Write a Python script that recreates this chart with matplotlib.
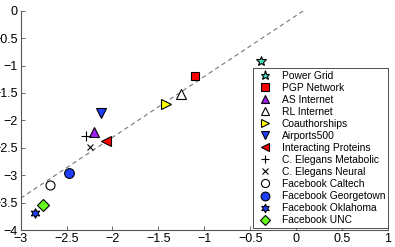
# -*- coding: utf-8 -*-
import matplotlib
matplotlib.use("Agg")
import matplotlib.pyplot as plt
from matplotlib.ticker import FuncFormatter

# Datos
redes = ["Power Grid", "PGP Network", "AS Internet", "RL Internet", "Coauthorships",
         "Airports500", "Interacting Proteins", "C. Elegans Metabolic", "C. Elegans Neural",
         "Facebook Caltech", "Facebook Georgetown", "Facebook Oklahoma", "Facebook UNC"]
x_vals = [-0.38, -1.10, -2.20, -1.25, -1.42, -2.13, -2.07, -2.29, -2.25, -2.68, -2.475, -2.84, -2.76]
y_vals = [-0.92, -1.20, -2.22, -1.52, -1.70, -1.86, -2.37, -2.29, -2.48, -3.18, -2.96, -3.69, -3.55]

# Recta de referencia (pendiente, ordenada)
pendiente = 1.11
ordenada = -0.09

# Estilos de marcador
marcadores = ["*", "s", "^", "^", ">", "v", "<", "+", "x", "o", "o", (6, 1, 0), "D"]
rellenos = ["#40e0c0", "#ff0000", "#a020f0", "white", "#ffff00", "#1f3fff", "#ff0000",
            "black", "black", "white", "#1f3fff", "#1f3fff", "#66ff1a"]
tamanos = [7.5, 6, 7, 7, 7, 7, 7, 7, 5, 6.5, 7, 7, 6]

plt.rcParams["font.family"] = ["Liberation Sans", "DejaVu Sans"]

fig = plt.figure(figsize=(3.95, 2.47), dpi=100)
ax = fig.add_axes([0.0524, 0.0688, 0.9296, 0.8879])

xs = [-3, 1]
ax.plot(xs, [pendiente * v + ordenada for v in xs], color="#777777", lw=0.8,
        linestyle=(0, (4, 3)), zorder=1)

for nombre, xv, yv, m, c, s in zip(redes, x_vals, y_vals, marcadores, rellenos, tamanos):
    ax.plot([xv], [yv], linestyle="none", marker=m, markersize=s, markerfacecolor=c,
            markeredgecolor="black", markeredgewidth=0.8, color="black", label=nombre, zorder=3)

ax.set_xlim(-3, 1)
ax.set_ylim(-4, 0)
ax.set_xticks([-3, -2.5, -2, -1.5, -1, -0.5, 0, 0.5, 1])
ax.set_yticks([-4, -3.5, -3, -2.5, -2, -1.5, -1, -0.5, 0])
fmt = FuncFormatter(lambda v, p: ("%g" % v).replace("-", "\u2212"))
ax.xaxis.set_major_formatter(fmt)
ax.yaxis.set_major_formatter(fmt)
ax.tick_params(direction="in", length=3, width=0.6, labelsize=9, color="#555555", pad=2)
ax.spines["top"].set_visible(False)
ax.spines["right"].set_visible(False)
ax.spines["left"].set_color("#555555")
ax.spines["bottom"].set_color("#555555")
ax.spines["left"].set_linewidth(0.8)
ax.spines["bottom"].set_linewidth(0.8)

leg = ax.legend(loc="lower right", bbox_to_anchor=(1.0, 0.01), borderaxespad=0, fontsize=7.4,
                labelspacing=0.2, handlelength=1.9, handletextpad=0.7, borderpad=0.25,
                fancybox=False, framealpha=1, edgecolor="#333333", numpoints=1,
                markerscale=0.9)
leg.get_frame().set_linewidth(0.6)

fig.savefig("out.png", dpi=100)
